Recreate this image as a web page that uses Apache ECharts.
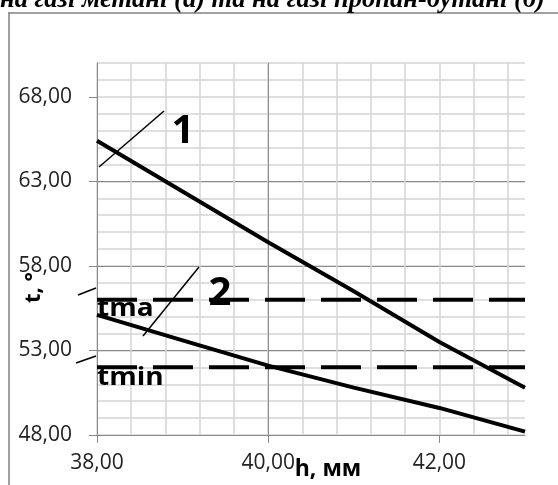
<!DOCTYPE html>
<html>
<head>
<meta charset="utf-8">
<script src="https://cdn.jsdelivr.net/npm/echarts@6/dist/echarts.min.js"></script>
<style>html,body{margin:0;padding:0;background:#fff;}#c{width:558px;height:485px;}</style>
</head>
<body>
<div id="c"></div>
<script>
const titleText = 'на газі метані (а) та на газі пропан-бутані (б)';
const xTicks = [38, 40, 42];
const yTicks = [48, 53, 58, 63, 68];
const curve1 = [[38, 65.4], [39, 62.4], [40, 59.4], [41, 56.5], [42, 53.5], [43, 50.8]];
const curve2 = [[38, 55.1], [39, 53.6], [40, 52.1], [41, 50.8], [42, 49.6], [43, 48.2]];
const tMax = [[38, 56], [43, 56]];
const tMin = [[38, 52], [43, 52]];

const fmt = v => v.toFixed(2).replace('.', ',');
const labelFont = {fontFamily: 'Open Sans', fontSize: 21, color: '#222'};
const major = '#8a8a8a', minor = '#d4d4d4';

const chart = echarts.init(document.getElementById('c'), null, {renderer: 'canvas'});
chart.setOption({
  animation: false,
  backgroundColor: '#fff',
  grid: {left: 97, right: 33, top: 63, bottom: 50, containLabel: false, outerBoundsMode: 'none'},
  xAxis: [
    {type: 'value', position: 'bottom', min: 38, max: 43, interval: 0.4, show: true,
     axisLine: {show: false}, axisTick: {show: false}, axisLabel: {show: false},
     splitLine: {show: true, showMaxLine: false, lineStyle: {color: minor, width: 1.5}}},
    {type: 'value', position: 'bottom', offset: 0, min: 38, max: 43, interval: 2,
     axisLine: {show: true, onZero: false, lineStyle: {color: major, width: 1}},
     axisTick: {show: true, length: 8, customValues: xTicks, lineStyle: {color: major}},
     axisLabel: Object.assign({margin: 18, customValues: xTicks, formatter: fmt}, labelFont),
     splitLine: {show: true, showMaxLine: false, lineStyle: {color: major, width: 1}}}
  ],
  yAxis: [
    {type: 'value', position: 'left', min: 48, max: 70, interval: 1,
     axisLine: {show: false}, axisTick: {show: false}, axisLabel: {show: false},
     splitLine: {show: true, lineStyle: {color: minor, width: 1.5}}},
    {type: 'value', position: 'left', offset: 0, min: 48, max: 70, interval: 5,
     axisLine: {show: true, onZero: false, lineStyle: {color: major, width: 1}},
     axisTick: {show: true, length: 8, customValues: yTicks, lineStyle: {color: major}},
     axisLabel: Object.assign({margin: 25, customValues: yTicks, formatter: fmt}, labelFont),
     splitLine: {show: true, showMaxLine: false, lineStyle: {color: major, width: 1}}}
  ],
  series: [
    {type: 'line', xAxisIndex: 1, yAxisIndex: 1, data: curve1, showSymbol: false, symbol: 'none',
     lineStyle: {color: '#000', width: 4}},
    {type: 'line', xAxisIndex: 1, yAxisIndex: 1, data: curve2, showSymbol: false, symbol: 'none',
     lineStyle: {color: '#000', width: 4}},
    {type: 'line', xAxisIndex: 1, yAxisIndex: 1, data: tMax, showSymbol: false, symbol: 'none',
     lineStyle: {color: '#000', width: 4, type: [40, 16], cap: 'butt'}},
    {type: 'line', xAxisIndex: 1, yAxisIndex: 1, data: tMin, showSymbol: false, symbol: 'none',
     lineStyle: {color: '#000', width: 4, type: [40, 16], cap: 'butt'}}
  ],
  graphic: [
    {type: 'line', shape: {x1: 8, y1: 13, x2: 558, y2: 13}, style: {stroke: '#808080', lineWidth: 1.5}, z: 10},
    {type: 'line', shape: {x1: 9, y1: 13, x2: 9, y2: 485}, style: {stroke: '#808080', lineWidth: 1.5}, z: 10},
    {type: 'text', x: 0, y: 14, z: 10, style: {text: titleText, font: 'italic bold 26.5px "Liberation Serif"', fill: '#000', textAlign: 'left', textVerticalAlign: 'bottom'}},
    {type: 'line', shape: {x1: 99, y1: 167, x2: 164, y2: 111}, style: {stroke: '#000', lineWidth: 1.5}, z: 10},
    {type: 'line', shape: {x1: 143, y1: 336, x2: 199, y2: 267}, style: {stroke: '#000', lineWidth: 1.5}, z: 10},
    {type: 'line', shape: {x1: 78, y1: 295, x2: 96, y2: 288}, style: {stroke: '#000', lineWidth: 1.5}, z: 10},
    {type: 'line', shape: {x1: 76, y1: 363, x2: 96, y2: 356}, style: {stroke: '#000', lineWidth: 1.5}, z: 10},
    {type: 'text', x: 183, y: 132, z: 10, style: {text: '1', font: 'bold 40px "Open Sans"', fill: '#000', textAlign: 'center', textVerticalAlign: 'middle'}},
    {type: 'text', x: 220, y: 294, z: 10, style: {text: '2', font: 'bold 40px "Open Sans"', fill: '#000', textAlign: 'center', textVerticalAlign: 'middle'}},
    {type: 'text', x: 97, y: 321, scaleX: 1.12, z: 10, style: {text: 'tma', font: 'bold 25px "Open Sans"', fill: '#000', textAlign: 'left', textVerticalAlign: 'bottom'}},
    {type: 'text', x: 97, y: 390, scaleX: 1.12, z: 10, style: {text: 'tmin', font: 'bold 25px "Open Sans"', fill: '#000', textAlign: 'left', textVerticalAlign: 'bottom'}},
    {type: 'text', x: 34, y: 303, rotation: Math.PI / 2, z: 10, style: {text: 't, °', font: 'bold 22px "Open Sans"', fill: '#000', textAlign: 'left', textVerticalAlign: 'middle'}},
    {type: 'text', x: 328, y: 469, z: 10, style: {text: 'h, мм', font: 'bold 23px "Open Sans"', fill: '#000', textAlign: 'center', textVerticalAlign: 'middle'}}
  ]
});
</script>
</body>
</html>
